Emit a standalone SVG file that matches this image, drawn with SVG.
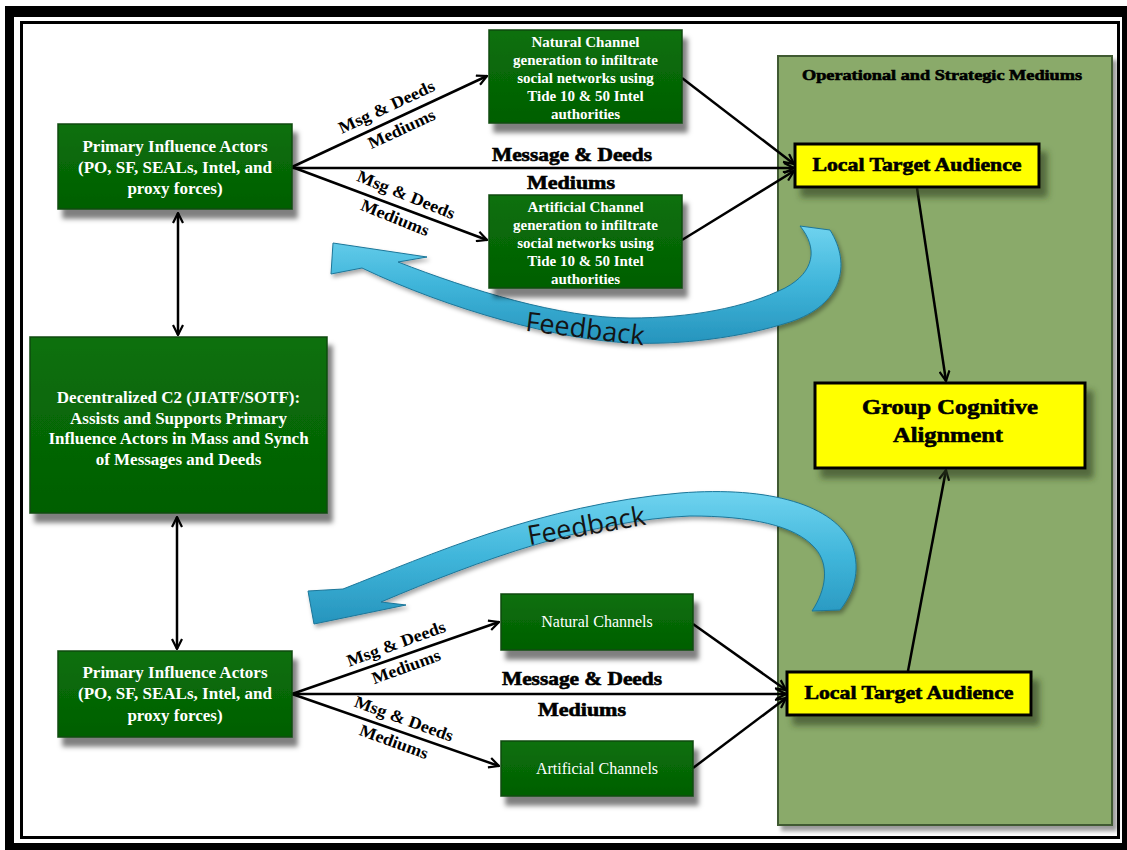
<svg xmlns="http://www.w3.org/2000/svg" width="1127" height="850" viewBox="0 0 1127 850">
<defs>
<style>
.gbox{fill:url(#gg);stroke:#0b4a0b;stroke-width:1.5;filter:url(#sh)}
.ybox{fill:#ffff00;stroke:#000;stroke-width:3;filter:url(#shy)}
.wt{font-family:"Liberation Serif","Times New Roman",serif;font-weight:bold;fill:#fff;text-anchor:middle}
.bt{font-family:"Liberation Serif","Times New Roman",serif;font-weight:bold;fill:#000;text-anchor:middle;stroke:#000;stroke-width:0.6}
.lbl{font-family:"Liberation Serif","Times New Roman",serif;font-weight:bold;fill:#000;text-anchor:middle;font-size:17px}
.fb{font-family:"Open Sans","Liberation Sans",sans-serif;fill:#141414;text-anchor:middle;font-size:27px}
.con{stroke:#000;stroke-width:2.5;fill:none;marker-end:url(#ah)}
.feed{fill:url(#cg);stroke:#1c7699;stroke-width:1;filter:url(#shf)}
</style>
<linearGradient id="gg" x1="0" y1="0" x2="0" y2="1">
<stop offset="0" stop-color="#0a700a"/>
<stop offset="1" stop-color="#035f03"/>
</linearGradient>
<linearGradient id="cg" x1="0" y1="0" x2="0" y2="1">
<stop offset="0" stop-color="#6fd3ef"/>
<stop offset="0.5" stop-color="#3fb5da"/>
<stop offset="1" stop-color="#2694bd"/>
</linearGradient>
<filter id="sh" x="-10%" y="-10%" width="130%" height="140%">
<feDropShadow dx="5" dy="9" stdDeviation="2.5" flood-color="#000" flood-opacity="0.5"/>
</filter>
<filter id="shy" x="-10%" y="-20%" width="130%" height="160%">
<feDropShadow dx="7" dy="9" stdDeviation="3" flood-color="#2c3d1c" flood-opacity="0.6"/>
</filter>
<filter id="shf" x="-10%" y="-10%" width="130%" height="140%">
<feDropShadow dx="2" dy="3" stdDeviation="2" flood-color="#000" flood-opacity="0.35"/>
</filter>
<filter id="shp" x="-5%" y="-5%" width="115%" height="110%">
<feDropShadow dx="4" dy="5" stdDeviation="2" flood-color="#000" flood-opacity="0.4"/>
</filter>
<marker id="ah" viewBox="0 0 12 12" refX="11" refY="6" markerWidth="12" markerHeight="12" markerUnits="userSpaceOnUse" orient="auto-start-reverse">
<path d="M1,1 L11,6 L1,11" fill="none" stroke="#000" stroke-width="2.2"/>
</marker>
</defs>

<g id="frame">
<rect x="5" y="6" width="1122" height="844" fill="#000"/>
<rect x="14" y="17" width="1108" height="826" fill="#fff"/>
<rect x="21.5" y="22.5" width="1097" height="815" fill="none" stroke="#000" stroke-width="3"/>
</g>

<g id="panel">
<rect x="778" y="56" width="334" height="769" fill="#8aaa6a" stroke="#3f5a30" stroke-width="2" filter="url(#shp)"/>
<text class="bt" x="942" y="80" font-size="15" textLength="280" lengthAdjust="spacingAndGlyphs" stroke-width="0.5">Operational and Strategic Mediums</text>
</g>

<g id="feedback-top">
<path class="feed" d="M830,230 C852,265 842,305 790,322 C740,338 680,345 630,343 C560,340 450,310 362,268 L331,274 L333,243 L427,257 L398,262 C470,290 560,318 630,318 C690,318 745,308 785,288 C815,272 818,248 800,226 Z"/>
<text class="fb" transform="translate(584,338) rotate(7)">Feedback</text>
</g>

<g id="feedback-bottom">
<path class="feed" d="M308,591 L343,589 C430,555 540,505 680,493 C770,486 835,505 852,545 C862,572 852,595 840,610 L812,611 C826,590 830,565 815,548 C795,525 750,516 690,516 C590,520 480,560 381,602 L406,605 L314,624 Z"/>
<text class="fb" transform="translate(588,535) rotate(-10)">Feedback</text>
</g>

<g id="connectors">
<line class="con" x1="292" y1="167" x2="487" y2="76"/>
<line class="con" x1="292" y1="167" x2="487" y2="240"/>
<line class="con" x1="292" y1="168" x2="794" y2="168"/>
<line class="con" x1="682" y1="78" x2="794" y2="164"/>
<line class="con" x1="682" y1="240" x2="794" y2="171"/>
<line class="con" x1="917" y1="188" x2="946" y2="381"/>
<line class="con" style="marker-start:url(#ah)" x1="178" y1="213" x2="178" y2="335"/>
<line class="con" style="marker-start:url(#ah)" x1="177" y1="517" x2="177" y2="649"/>
<line class="con" x1="292" y1="694" x2="499" y2="622"/>
<line class="con" x1="292" y1="694" x2="499" y2="766"/>
<line class="con" x1="292" y1="694" x2="786" y2="694"/>
<line class="con" x1="693" y1="624" x2="786" y2="690"/>
<line class="con" x1="693" y1="768" x2="786" y2="698"/>
<line class="con" x1="908" y1="671" x2="946" y2="470"/>
<text class="lbl" transform="translate(389,112) rotate(-25)" textLength="104" lengthAdjust="spacingAndGlyphs">Msg &amp; Deeds</text>
<text class="lbl" transform="translate(404,134) rotate(-25)" textLength="72" lengthAdjust="spacingAndGlyphs">Mediums</text>
<text class="lbl" transform="translate(404,200) rotate(22)" textLength="104" lengthAdjust="spacingAndGlyphs">Msg &amp; Deeds</text>
<text class="lbl" transform="translate(393,223) rotate(22)" textLength="72" lengthAdjust="spacingAndGlyphs">Mediums</text>
<text class="lbl" transform="translate(398,649) rotate(-20)" textLength="104" lengthAdjust="spacingAndGlyphs">Msg &amp; Deeds</text>
<text class="lbl" transform="translate(408,672) rotate(-20)" textLength="72" lengthAdjust="spacingAndGlyphs">Mediums</text>
<text class="lbl" transform="translate(402,724) rotate(20)" textLength="104" lengthAdjust="spacingAndGlyphs">Msg &amp; Deeds</text>
<text class="lbl" transform="translate(392,747) rotate(20)" textLength="72" lengthAdjust="spacingAndGlyphs">Mediums</text>
<text class="bt" x="572" y="161" font-size="18" textLength="160" lengthAdjust="spacingAndGlyphs">Message &amp; Deeds</text>
<text class="bt" x="571" y="189" font-size="18" textLength="88" lengthAdjust="spacingAndGlyphs">Mediums</text>
<text class="bt" x="582" y="685" font-size="18" textLength="160" lengthAdjust="spacingAndGlyphs">Message &amp; Deeds</text>
<text class="bt" x="582" y="716" font-size="18" textLength="88" lengthAdjust="spacingAndGlyphs">Mediums</text>
</g>

<g id="pia-top">
<rect class="gbox" x="58" y="124" width="234" height="85"/>
<text class="wt" font-size="17"><tspan x="175" y="152">Primary Influence Actors</tspan><tspan x="175" y="173">(PO, SF, SEALs, Intel, and</tspan><tspan x="175" y="194">proxy forces)</tspan></text>
</g>

<g id="natural-channel-gen">
<rect class="gbox" x="489" y="30" width="193" height="93"/>
<text class="wt" font-size="15"><tspan x="585.5" y="46.5">Natural Channel</tspan><tspan x="585.5" y="64.5">generation to infiltrate</tspan><tspan x="585.5" y="82.5">social networks using</tspan><tspan x="585.5" y="100.5">Tide 10 &amp; 50 Intel</tspan><tspan x="585.5" y="118.5">authorities</tspan></text>
</g>

<g id="artificial-channel-gen">
<rect class="gbox" x="489" y="195" width="193" height="93"/>
<text class="wt" font-size="15"><tspan x="585.5" y="211.5">Artificial Channel</tspan><tspan x="585.5" y="229.5">generation to infiltrate</tspan><tspan x="585.5" y="247.5">social networks using</tspan><tspan x="585.5" y="265.5">Tide 10 &amp; 50 Intel</tspan><tspan x="585.5" y="283.5">authorities</tspan></text>
</g>

<g id="decentralized-c2">
<rect class="gbox" x="30" y="337" width="297" height="176"/>
<text class="wt" font-size="17"><tspan x="178.5" y="403">Decentralized C2 (JIATF/SOTF):</tspan><tspan x="178.5" y="423.5">Assists and Supports Primary</tspan><tspan x="178.5" y="444">Influence Actors in Mass and Synch</tspan><tspan x="178.5" y="464.5">of Messages and Deeds</tspan></text>
</g>

<g id="pia-bottom">
<rect class="gbox" x="58" y="651" width="234" height="86"/>
<text class="wt" font-size="17"><tspan x="175" y="678">Primary Influence Actors</tspan><tspan x="175" y="699">(PO, SF, SEALs, Intel, and</tspan><tspan x="175" y="721">proxy forces)</tspan></text>
</g>

<g id="natural-channels">
<rect class="gbox" x="501" y="594" width="192" height="56"/>
<text class="wt" font-size="16" x="597" y="627" style="font-weight:normal">Natural Channels</text>
</g>

<g id="artificial-channels">
<rect class="gbox" x="501" y="741" width="192" height="55"/>
<text class="wt" font-size="16" x="597" y="774" style="font-weight:normal">Artificial Channels</text>
</g>

<g id="lta-top">
<rect class="ybox" x="795" y="144" width="244" height="43"/>
<text class="bt" x="917" y="171" font-size="18" textLength="209" lengthAdjust="spacingAndGlyphs">Local Target Audience</text>
</g>

<g id="group-cognitive-alignment">
<rect class="ybox" x="815" y="383" width="270" height="85"/>
<text class="bt" font-size="21"><tspan x="950" y="414" textLength="176" lengthAdjust="spacingAndGlyphs">Group Cognitive</tspan><tspan x="948" y="442" textLength="110" lengthAdjust="spacingAndGlyphs">Alignment</tspan></text>
</g>

<g id="lta-bottom">
<rect class="ybox" x="787" y="672" width="244" height="43"/>
<text class="bt" x="909" y="699" font-size="18" textLength="209" lengthAdjust="spacingAndGlyphs">Local Target Audience</text>
</g>
</svg>
